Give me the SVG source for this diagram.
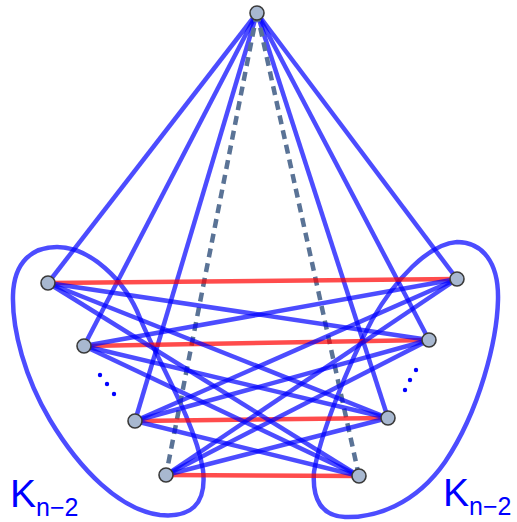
<svg xmlns="http://www.w3.org/2000/svg" width="517" height="522" viewBox="0 0 517 522">
<style>
.loop{fill:none;stroke:#0000ff;stroke-opacity:0.7;stroke-width:4.5}
.e{stroke:#0000ff;stroke-opacity:0.7;stroke-width:4.5;fill:none}
.r{stroke:#ff0000;stroke-opacity:0.7;stroke-width:4.5;fill:none}
.d{stroke:#5a7396;stroke-width:4.5;stroke-dasharray:9 6;fill:none}
.n{fill:#a8b8d0;stroke:#3a3a3a;stroke-width:1.6}
.dot{fill:#0000ff}
.lbl{font-family:"Liberation Sans",Arial,sans-serif;fill:#0000ff}
</style>
<rect width="517" height="522" fill="#ffffff"/>
<g id="cliques">
<path class="loop" d="M 57 247 C 90 247, 125 280, 140 318 S 195 420, 203 470 C 207 505, 190 518, 160 515 C 120 510, 80 470, 50 420 C 25 378, 12 330, 13 295 C 14 262, 32 247, 57 247 Z"/>
<path class="loop" d="M 457 242 C 482 242, 499 262, 498 300 C 497 340, 480 410, 445 462 C 415 505, 375 518, 345 517 C 322 516, 312 500, 314 472 C 320 435, 348 365, 372 320 C 395 280, 428 244, 457 242 Z"/>
</g>
<g id="connectors">
<line class="e" x1="257" y1="13" x2="48" y2="283"/>
<line class="e" x1="257" y1="13" x2="84" y2="346"/>
<line class="e" x1="257" y1="13" x2="135" y2="421"/>
<line class="e" x1="257" y1="13" x2="457" y2="279"/>
<line class="e" x1="257" y1="13" x2="429" y2="340"/>
<line class="e" x1="257" y1="13" x2="388" y2="418"/>
<line class="d" x1="257" y1="13" x2="166" y2="475"/>
<line class="d" x1="257" y1="13" x2="359" y2="476"/>
<line class="r" x1="48" y1="283" x2="457" y2="279"/>
<line class="r" x1="84" y1="346" x2="429" y2="340"/>
<line class="r" x1="135" y1="421" x2="388" y2="418"/>
<line class="r" x1="166" y1="475" x2="359" y2="476"/>
<line class="e" x1="48" y1="283" x2="429" y2="340"/>
<line class="e" x1="48" y1="283" x2="388" y2="418"/>
<line class="e" x1="48" y1="283" x2="359" y2="476"/>
<line class="e" x1="84" y1="346" x2="457" y2="279"/>
<line class="e" x1="84" y1="346" x2="388" y2="418"/>
<line class="e" x1="84" y1="346" x2="359" y2="476"/>
<line class="e" x1="135" y1="421" x2="457" y2="279"/>
<line class="e" x1="135" y1="421" x2="429" y2="340"/>
<line class="e" x1="135" y1="421" x2="359" y2="476"/>
<line class="e" x1="166" y1="475" x2="457" y2="279"/>
<line class="e" x1="166" y1="475" x2="429" y2="340"/>
<line class="e" x1="166" y1="475" x2="388" y2="418"/>
</g>
<g id="ellipsis-left">
<circle class="dot" cx="100" cy="375" r="2.2"/>
<circle class="dot" cx="107" cy="384" r="2.2"/>
<circle class="dot" cx="114" cy="394" r="2.2"/>
</g>
<g id="ellipsis-right">
<circle class="dot" cx="416" cy="370" r="2.2"/>
<circle class="dot" cx="410" cy="380" r="2.2"/>
<circle class="dot" cx="405" cy="390" r="2.2"/>
</g>
<g id="node-top"><circle class="n" cx="257" cy="13" r="7"/></g>
<g id="node-L1"><circle class="n" cx="48" cy="283" r="7"/></g>
<g id="node-L2"><circle class="n" cx="84" cy="346" r="7"/></g>
<g id="node-L3"><circle class="n" cx="135" cy="421" r="7"/></g>
<g id="node-L4"><circle class="n" cx="166" cy="475" r="7"/></g>
<g id="node-R1"><circle class="n" cx="457" cy="279" r="7"/></g>
<g id="node-R2"><circle class="n" cx="429" cy="340" r="7"/></g>
<g id="node-R3"><circle class="n" cx="388" cy="418" r="7"/></g>
<g id="node-R4"><circle class="n" cx="359" cy="476" r="7"/></g>
<g id="label-left"><text class="lbl" x="10" y="507" font-size="39">K<tspan font-size="25" dy="9">n−2</tspan></text></g>
<g id="label-right"><text class="lbl" x="443" y="506" font-size="39">K<tspan font-size="25" dy="9">n−2</tspan></text></g>
</svg>
